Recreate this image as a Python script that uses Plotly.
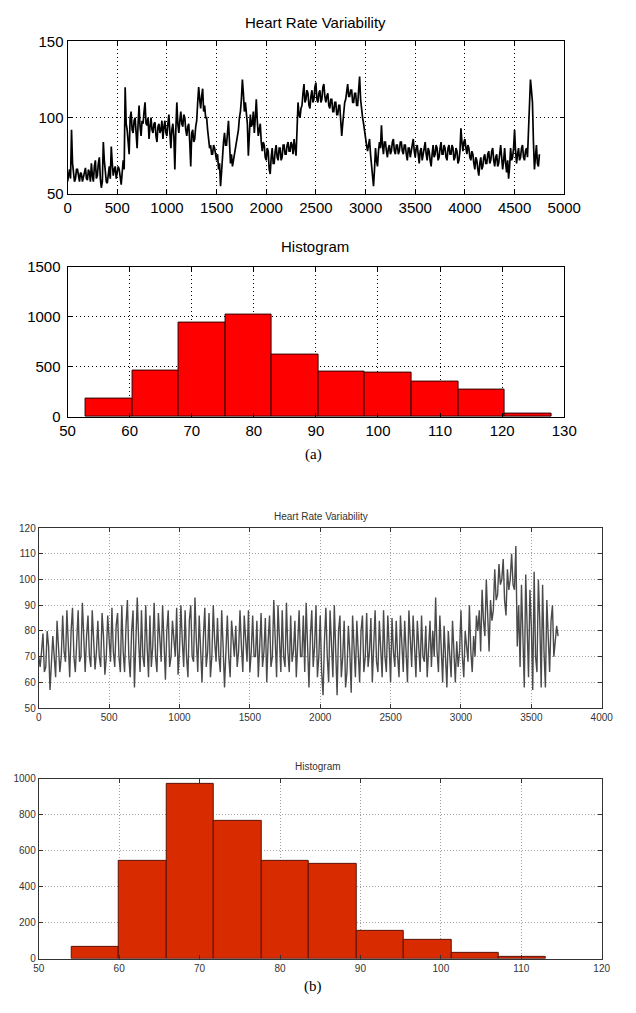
import plotly.graph_objects as go

# ---------------- data ----------------
# (a) Heart rate variability, one value every 10 samples, from sample 0
HRV_A_STEP = 10
HRV_A = [
    58, 64, 66, 60, 92, 70, 62, 58, 60, 66, 66, 60, 58, 64, 63, 58, 61, 66, 67, 60,
    59, 66, 64, 58, 70, 62, 58, 68, 72, 60, 62, 70, 74, 60, 54, 58, 84, 72, 64, 58,
    57, 64, 68, 60, 81, 70, 62, 66, 68, 60, 63, 68, 66, 60, 56, 64, 72, 66, 120, 96,
    92, 84, 76, 100, 104, 92, 90, 98, 100, 90, 80, 96, 108, 94, 88, 98, 96, 104, 110, 96,
    95, 100, 86, 94, 100, 92, 90, 96, 97, 88, 84, 94, 96, 90, 92, 98, 86, 94, 98, 90,
    88, 96, 102, 90, 80, 92, 96, 88, 66, 92, 110, 96, 90, 98, 104, 96, 94, 102, 100, 92,
    88, 94, 96, 84, 68, 90, 92, 84, 86, 94, 98, 110, 120, 112, 106, 114, 119, 104, 108, 100,
    100, 92, 84, 80, 82, 76, 76, 82, 80, 74, 72, 76, 66, 70, 55, 64, 78, 84, 90, 82,
    82, 90, 98, 84, 70, 76, 68, 72, 76, 82, 84, 90, 92, 100, 104, 112, 125, 116, 104, 110,
    100, 96, 75, 92, 102, 94, 96, 104, 90, 100, 112, 98, 88, 92, 96, 84, 78, 84, 82, 74,
    72, 80, 78, 66, 63, 74, 80, 70, 70, 78, 82, 74, 72, 80, 80, 72, 74, 82, 82, 76,
    76, 82, 84, 78, 78, 84, 82, 76, 86, 80, 75, 92, 110, 102, 100, 106, 108, 116, 122, 110,
    112, 118, 116, 108, 106, 114, 118, 110, 112, 120, 123, 112, 110, 116, 118, 110, 112, 120, 122, 114,
    110, 114, 116, 108, 106, 112, 112, 104, 104, 110, 110, 102, 102, 108, 108, 98, 88, 96, 104, 110,
    112, 118, 122, 114, 114, 118, 118, 110, 110, 116, 116, 108, 108, 118, 127, 112, 104, 100, 96, 90,
    88, 82, 78, 84, 86, 76, 70, 62, 55, 66, 80, 72, 68, 78, 84, 80, 95, 82, 76, 84,
    84, 78, 74, 80, 82, 76, 78, 84, 86, 78, 76, 82, 82, 76, 78, 84, 84, 78, 76, 82,
    82, 76, 72, 80, 80, 74, 78, 84, 86, 78, 74, 80, 82, 76, 70, 78, 80, 72, 76, 82,
    84, 76, 72, 80, 78, 72, 68, 76, 82, 74, 76, 82, 80, 72, 74, 80, 84, 76, 76, 82,
    80, 74, 72, 80, 82, 76, 76, 82, 80, 72, 74, 80, 78, 70, 72, 78, 93, 84, 78, 84,
    86, 80, 76, 82, 80, 74, 72, 78, 76, 70, 66, 74, 72, 66, 62, 70, 74, 66, 68, 74,
    76, 70, 70, 76, 78, 70, 72, 78, 80, 72, 68, 74, 76, 68, 70, 76, 82, 74, 66, 72,
    80, 70, 64, 72, 60, 68, 80, 72, 74, 80, 92, 78, 70, 76, 80, 72, 74, 80, 82, 74,
    72, 78, 80, 74, 90, 104, 125, 118, 110, 84, 66, 74, 82, 70, 68, 76,
]

# (a) histogram: bin edges and counts
HIST_A_EDGES = [52.9, 60.4, 67.9, 75.4, 82.9, 90.4, 97.9, 105.4, 112.9, 120.4, 127.9]
HIST_A_COUNTS = [185, 465, 945, 1020, 625, 450, 440, 352, 277, 33]

# (b) Heart rate variability, one value every 10 samples, from sample 0
HRV_B_STEP = 10
HRV_B = [
    70, 66, 72, 79, 64, 66, 80, 74, 57, 66, 78, 70, 62, 84, 76, 64, 70, 86, 72, 68,
    88, 74, 62, 80, 89, 70, 64, 76, 88, 68, 70, 91, 74, 64, 78, 86, 70, 66, 88, 76,
    65, 72, 84, 70, 66, 87, 78, 63, 70, 86, 74, 68, 89, 72, 66, 82, 87, 70, 64, 90,
    72, 64, 82, 92, 70, 62, 80, 88, 58, 72, 93, 76, 64, 88, 70, 66, 90, 74, 62, 86,
    66, 74, 91, 70, 64, 87, 76, 68, 90, 72, 61, 80, 88, 66, 70, 84, 76, 70, 89, 63,
    72, 90, 76, 66, 88, 70, 62, 84, 90, 70, 68, 93, 76, 64, 86, 72, 60, 78, 89, 66,
    72, 87, 62, 70, 90, 76, 68, 85, 70, 64, 88, 74, 58, 72, 86, 70, 62, 84, 76, 70,
    82, 66, 72, 88, 74, 64, 86, 78, 68, 88, 64, 72, 86, 70, 70, 84, 62, 74, 87, 66,
    72, 85, 60, 76, 86, 66, 70, 92, 74, 62, 90, 78, 64, 88, 70, 66, 91, 72, 64, 86,
    68, 72, 84, 62, 74, 88, 70, 70, 86, 64, 91, 72, 58, 78, 88, 66, 74, 90, 62, 70,
    86, 64, 55, 76, 89, 70, 60, 88, 72, 62, 90, 74, 55, 80, 86, 62, 70, 84, 58, 64,
    82, 72, 56, 86, 70, 62, 84, 74, 60, 80, 86, 64, 70, 87, 66, 72, 85, 60, 74, 88,
    68, 64, 84, 72, 62, 88, 70, 64, 86, 74, 60, 85, 72, 66, 84, 70, 62, 86, 72, 64,
    84, 70, 60, 88, 74, 66, 86, 70, 62, 84, 72, 64, 86, 70, 68, 82, 62, 74, 84, 66,
    80, 70, 93, 72, 64, 86, 70, 60, 82, 66, 58, 80, 72, 62, 84, 68, 60, 76, 66, 72,
    88, 70, 62, 80, 74, 68, 90, 72, 64, 78, 70, 86, 80, 88, 72, 96, 84, 78, 100, 86,
    72, 92, 84, 88, 104, 92, 94, 106, 98, 100, 108, 92, 86, 104, 96, 100, 110, 98, 96, 113,
    74, 90, 66, 98, 80, 58, 102, 76, 62, 96, 82, 57, 103, 70, 64, 100, 84, 58, 98, 72,
    58, 92, 76, 64, 84, 90, 70, 76, 82, 78,
]

# (b) histogram: bin edges and counts
HIST_B_EDGES = [54.1, 60.0, 65.9, 71.8, 77.7, 83.6, 89.5, 95.4, 101.3, 107.2, 113.1]
HIST_B_COUNTS = [65, 547, 975, 768, 545, 529, 153, 105, 31, 9]

# ---------------- figure ----------------
W, H = 636, 1013
NARROW = "Liberation Sans Narrow, Arial Narrow, Liberation Sans, Arial, sans-serif"
SERIF = "Liberation Serif, Times New Roman, serif"


def px_x(p):
    return p / W


def px_y(p):
    return 1 - p / H


def centers(edges):
    return [(edges[i] + edges[i + 1]) / 2 for i in range(len(edges) - 1)]


def widths(edges):
    return [edges[i + 1] - edges[i] for i in range(len(edges) - 1)]


fig = go.Figure()

fig.add_trace(go.Scatter(
    x=[i * HRV_A_STEP for i in range(len(HRV_A))], y=HRV_A,
    mode="lines", line=dict(color="black", width=1.7),
    xaxis="x", yaxis="y", showlegend=False, hoverinfo="skip"))

fig.add_trace(go.Bar(
    x=centers(HIST_A_EDGES), y=HIST_A_COUNTS, width=widths(HIST_A_EDGES),
    marker=dict(color="#FF0000", line=dict(color="#300000", width=1)),
    xaxis="x2", yaxis="y2", showlegend=False, hoverinfo="skip"))

fig.add_trace(go.Scatter(
    x=[i * HRV_B_STEP for i in range(len(HRV_B))], y=HRV_B,
    mode="lines", line=dict(color="#4a4a4a", width=1.4),
    xaxis="x3", yaxis="y3", showlegend=False, hoverinfo="skip"))

fig.add_trace(go.Bar(
    x=centers(HIST_B_EDGES), y=HIST_B_COUNTS, width=widths(HIST_B_EDGES),
    marker=dict(color="#D82B00", line=dict(color="#5a1408", width=1)),
    xaxis="x4", yaxis="y4", showlegend=False, hoverinfo="skip"))


def axis(domain, rng, dtick, anchor, size, grid, dash, line, fcolor):
    return dict(
        domain=domain, range=rng, dtick=dtick, tick0=rng[0], anchor=anchor,
        showline=True, linecolor=line, linewidth=1, mirror="ticks",
        ticks="inside", ticklen=4, tickcolor=line,
        showgrid=True, gridcolor=grid, griddash=dash, gridwidth=1,
        zeroline=False, fixedrange=True,
        tickfont=dict(family=NARROW, size=size, color=fcolor),
    )


# top pair (a)
xa_dom = [px_x(62), px_x(579)]
TOP = dict(size=15, grid="black", dash="1px,3px", line="black", fcolor="black")
fig.update_layout(
    xaxis=axis(xa_dom, [0, 5000], 500, "y", **TOP),
    yaxis=axis([px_y(188), px_y(33)], [50, 150], 50, "x", **TOP),
    xaxis2=axis(xa_dom, [50, 130], 10, "y2", **TOP),
    yaxis2=axis([px_y(415), px_y(262)], [0, 1500], 500, "x2", **TOP),
)
fig.layout.yaxis2.ticklabelstandoff = 3
# bottom pair (b)
xb_dom = [px_x(32), px_x(618)]
BOT = dict(size=10, grid="#a0a0a0", dash="1px,2px", line="#333333", fcolor="#333333")
fig.update_layout(
    xaxis3=axis(xb_dom, [0, 4000], 500, "y3", **BOT),
    yaxis3=axis([px_y(711), px_y(528)], [50, 120], 10, "x3", **BOT),
    xaxis4=axis(xb_dom, [50, 120], 10, "y4", **BOT),
    yaxis4=axis([px_y(966), px_y(783)], [0, 1000], 200, "x4", **BOT),
)

ann = [
    ("Heart Rate Variability", 320, 14, 15, "black", NARROW),
    ("Histogram", 320, 242, 15, "black", NARROW),
    ("(a)", 318, 453, 15, "black", SERIF),
    ("Heart Rate Variability", 326, 516, 10, "#333333", NARROW),
    ("Histogram", 323, 770, 10, "#333333", NARROW),
    ("(b)", 317, 994, 15, "black", SERIF),
]
fig.update_layout(annotations=[
    dict(text=t, x=px_x(x), y=px_y(y), xref="paper", yref="paper",
         xanchor="center", yanchor="middle", showarrow=False,
         font=dict(family=f, size=s, color=c))
    for t, x, y, s, c, f in ann
])

fig.update_layout(
    width=W, height=H, margin=dict(l=0, r=0, t=0, b=0),
    paper_bgcolor="white", plot_bgcolor="white",
    bargap=0, showlegend=False,
)

fig.write_html("out.html", config={"displayModeBar": False})
